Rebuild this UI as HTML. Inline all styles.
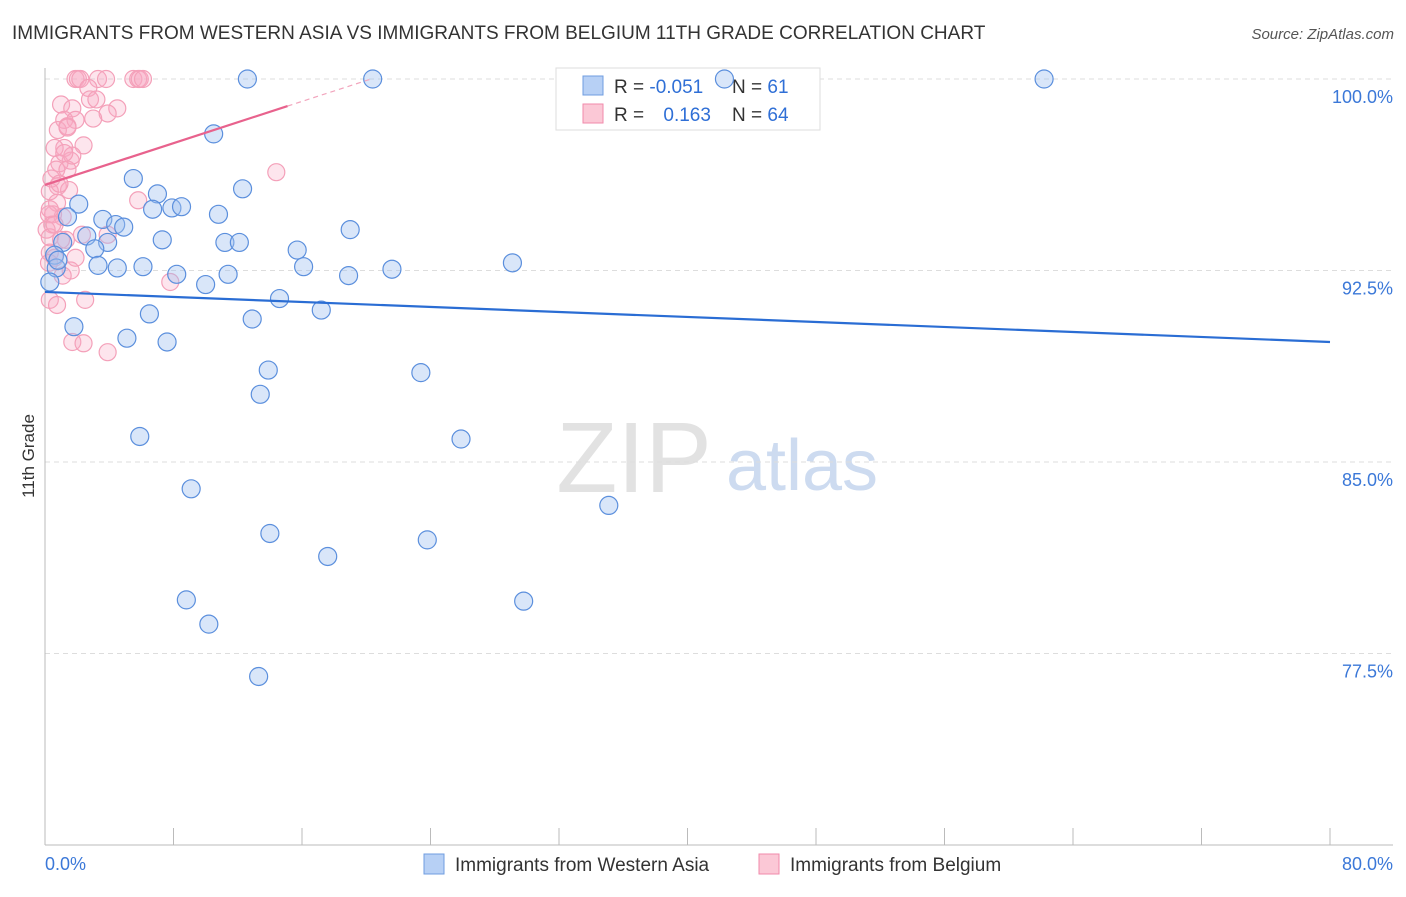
<!DOCTYPE html>
<html><head><meta charset="utf-8"><style>
body{margin:0;background:#fff;font-family:"Liberation Sans",sans-serif;}
svg text{font-family:"Liberation Sans",sans-serif;}
</style></head><body>
<svg id="chart" width="1406" height="892">
<text x="12" y="39" font-size="19" fill="#333">IMMIGRANTS FROM WESTERN ASIA VS IMMIGRANTS FROM BELGIUM 11TH GRADE CORRELATION CHART</text>
<text x="1394" y="39" font-size="15" fill="#555" text-anchor="end" font-style="italic">Source: ZipAtlas.com</text>
<text x="34" y="456" font-size="17" fill="#333" transform="rotate(-90 34 456)" text-anchor="middle">11th Grade</text>
<g id="watermark">
<text x="634" y="492" font-size="100" fill="#e2e2e2" font-family="Liberation Serif,serif" text-anchor="middle">ZIP</text>
<text x="802" y="490" font-size="72" fill="#cddbf0" text-anchor="middle">atlas</text>
</g>
<g id="grid"></g><g id="axes"></g>
<g>
<rect x="556" y="68" width="264" height="62" fill="#fff" stroke="#ddd"/>
<rect x="583" y="76" width="20" height="19" fill="#b7d0f5" stroke="#6f9de0"/>
<rect x="583" y="104" width="20" height="19" fill="#fbc8d6" stroke="#f08aab"/>
<text x="614" y="93" font-size="19" fill="#333">R = <tspan fill="#2f6fd6">-0.051</tspan></text>
<text x="732" y="93" font-size="19" fill="#333">N = <tspan fill="#2f6fd6">61</tspan></text>
<text x="614" y="121" font-size="19" fill="#333">R = <tspan fill="#2f6fd6" dx="14">0.163</tspan></text>
<text x="732" y="121" font-size="19" fill="#333">N = <tspan fill="#2f6fd6">64</tspan></text>
</g>
<g id="pts"></g><g id="trend"></g>
<g>
<rect x="424" y="854" width="20" height="20" fill="#b7d0f5" stroke="#6f9de0"/>
<text x="455" y="871" font-size="19" fill="#333">Immigrants from Western Asia</text>
<rect x="759" y="854" width="20" height="20" fill="#fbc8d6" stroke="#f08aab"/>
<text x="790" y="871" font-size="19" fill="#333">Immigrants from Belgium</text>
</g>
</svg>
<script>
const blueX=[12.6,20.4,42.3,62.2,10.5,5.5,7.0,12.3,2.1,6.7,7.9,8.5,3.6,10.8,4.4,4.9,1.4,19.0,2.6,3.9,7.3,11.2,12.1,1.1,3.1,15.7,0.6,3.3,4.5,6.1,16.1,8.2,11.4,18.9,21.6,29.1,0.7,0.3,10.0,14.6,6.5,12.9,17.2,1.8,5.1,7.6,13.9,23.4,13.4,5.9,25.9,9.1,35.1,14.0,23.8,17.6,8.8,29.8,10.2,13.3,0.8];
const blueY=[100,100,100,100,97.85,96.1,95.5,95.7,95.1,94.9,94.95,95.0,94.5,94.7,94.3,94.2,94.6,94.1,93.85,93.6,93.7,93.6,93.6,93.6,93.35,93.3,93.1,92.7,92.6,92.65,92.65,92.35,92.35,92.3,92.55,92.8,92.6,92.05,91.95,91.4,90.8,90.6,90.95,90.3,89.85,89.7,88.6,88.5,87.65,86.0,85.9,83.95,83.3,82.2,81.95,81.3,79.6,79.55,78.65,76.6,92.9];
const pinkX=[1.9,2.05,2.2,3.3,3.8,5.5,5.8,5.9,6.1,2.7,1.0,1.7,2.8,4.5,3.9,1.2,1.9,0.8,1.4,3.0,2.4,1.2,0.6,1.6,0.9,0.7,1.4,0.4,0.8,1.5,0.3,0.75,5.8,14.4,0.5,1.1,0.25,0.45,0.1,0.3,1.3,2.3,3.9,0.3,0.6,1.6,7.8,0.3,0.75,2.5,1.7,2.4,3.9,0.25,1.9,1.1,1.7,0.9,0.3,1.2,3.2,1.4,0.6,1.0];
const pinkY=[100,100,100,100,100,100,100,100,100,99.65,99.0,98.85,99.2,98.85,98.65,98.4,98.4,98.0,98.15,98.45,97.4,97.3,97.3,96.8,96.7,96.45,96.45,96.1,95.8,95.65,95.6,95.15,95.25,96.35,94.7,94.6,94.7,94.3,94.1,93.8,93.7,93.9,93.9,93.2,93.0,92.5,92.05,91.35,91.15,91.35,89.7,89.65,89.3,92.8,93.0,92.3,97.0,95.9,94.9,97.1,99.2,98.1,94.3,93.7];
const yTicks=[100,92.5,85,77.5];
const yTickLabels=["100.0%","92.5%","85.0%","77.5%"];
const xTicks=[0,8,16,24,32,40,48,56,64,72,80];
const blueTrend=[[0,91.66],[80,89.7]];
const pinkTrend=[[0,95.85],[15.1,98.94]];
const pinkTrendDash=[[15.1,98.94],[20.3,100]];
const NS="http://www.w3.org/2000/svg";
const sx=v=>45+v*1285/80, sy=v=>79+(100-v)*191.5/7.5;
function mk(t,a,p){const e=document.createElementNS(NS,t);for(const k in a)e.setAttribute(k,a[k]);p.appendChild(e);return e;}
const grid=document.getElementById('grid'),axes=document.getElementById('axes');
yTicks.forEach((v,i)=>{
 const l=mk('line',{x1:45,x2:1393,y1:sy(v),y2:sy(v),stroke:'#ddd','stroke-dasharray':'5,4'},grid);
 
 
 const t=mk('text',{x:1393,y:sy(v)+24,'font-size':18,fill:'#3b78d8','text-anchor':'end'},axes);
 t.textContent=yTickLabels[i];
 
 
});
const ax=mk('line',{x1:45,x2:1393,y1:845,y2:845,stroke:'#bbb'},axes);


const ay=mk('line',{x1:45,x2:45,y1:68,y2:845,stroke:'#bbb'},axes);


xTicks.forEach(v=>{const t=mk('line',{x1:sx(v),x2:sx(v),y1:828,y2:845,stroke:'#bbb'},axes);
 
 });
const xl0=mk('text',{x:45,y:870,'font-size':18,fill:'#3b78d8'},axes);xl0.textContent=xTicks[0].toFixed(1)+'%';


const xl1=mk('text',{x:1393,y:870,'font-size':18,fill:'#3b78d8','text-anchor':'end'},axes);xl1.textContent=xTicks[xTicks.length-1].toFixed(1)+'%';


const pts=document.getElementById('pts');
pinkX.forEach((x,i)=>{const c=mk('circle',{cx:sx(x),cy:sy(pinkY[i]),r:8.5,fill:'rgba(248,170,195,0.3)',stroke:'#f4a0b9','stroke-width':1.2},pts);
 
 });
blueX.forEach((x,i)=>{const c=mk('circle',{cx:sx(x),cy:sy(blueY[i]),r:9,fill:'rgba(160,192,240,0.4)',stroke:'#5b8fdd','stroke-width':1.2},pts);
 
 });
const tr=document.getElementById('trend');
const bl=mk('line',{x1:sx(blueTrend[0][0]),y1:sy(blueTrend[0][1]),x2:sx(blueTrend[1][0]),y2:sy(blueTrend[1][1]),stroke:'#2a6dd4','stroke-width':2.2},tr);


const pl=mk('line',{x1:sx(pinkTrend[0][0]),y1:sy(pinkTrend[0][1]),x2:sx(pinkTrend[1][0]),y2:sy(pinkTrend[1][1]),stroke:'#e8628d','stroke-width':2.2},tr);


const pd=mk('line',{x1:sx(pinkTrendDash[0][0]),y1:sy(pinkTrendDash[0][1]),x2:sx(pinkTrendDash[1][0]),y2:sy(pinkTrendDash[1][1]),stroke:'#f2a5bd','stroke-width':1.2,'stroke-dasharray':'5,4'},tr);


</script>
</body></html>
